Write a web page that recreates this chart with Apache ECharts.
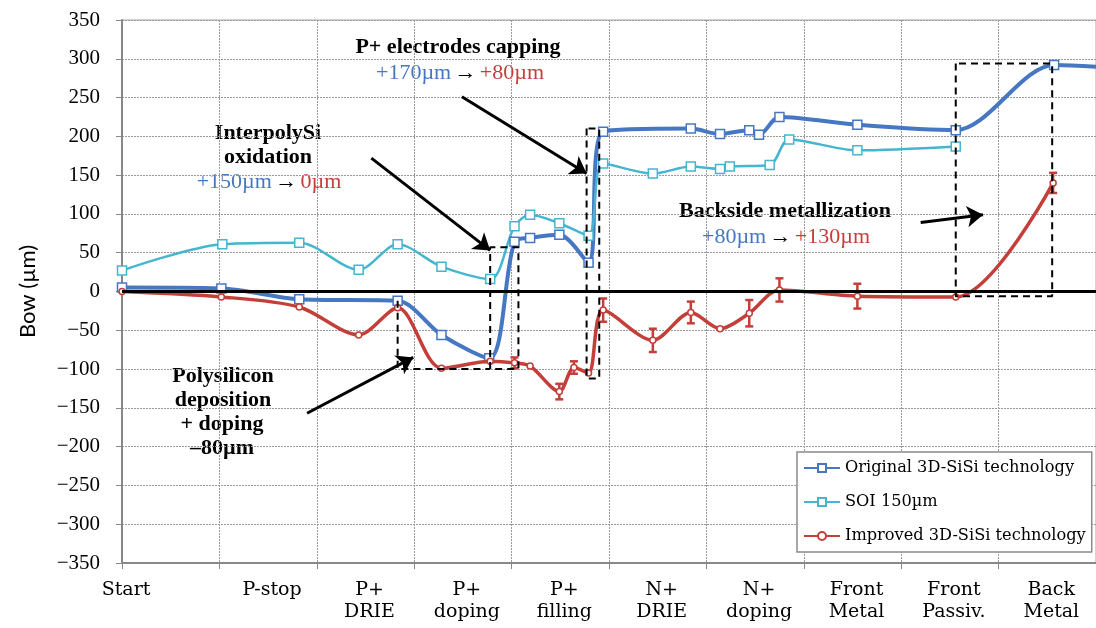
<!DOCTYPE html>
<html><head><meta charset="utf-8">
<script src="https://cdn.jsdelivr.net/npm/echarts@6/dist/echarts.min.js"></script>
<style>html,body{margin:0;padding:0;background:#fff}#c{width:1096px;height:628px}</style>
</head><body><div id="c"></div>
<script>
// ---- data ----
const stepLabels = ['Start','P-stop','P+\nDRIE','P+\ndoping','P+\nfilling','N+\nDRIE','N+\ndoping','Front\nMetal','Front\nPassiv.','Back\nMetal'];
const stepLabelPos = [0, 1.5, 2.5, 3.5, 4.5, 5.5, 6.5, 7.5, 8.5, 9.5];
const yMin = -350, yMax = 350, yStep = 50;

const originalX = [0, 1.02, 1.82, 2.83, 3.28, 3.77, 4.03, 4.19, 4.49, 4.79, 4.94, 5.84, 6.14, 6.44, 6.54, 6.75, 7.55, 8.56, 9.57, 10.4];
const originalY = [5, 4, -10, -12, -56, -86, 64, 69, 73, 37, 206, 210, 203, 208, 202, 225, 215, 208, 292, 286];

const soiX = [0, 1.03, 1.82, 2.43, 2.83, 3.28, 3.78, 4.03, 4.19, 4.49, 4.79, 4.94, 5.45, 5.84, 6.14, 6.24, 6.65, 6.85, 7.55, 8.56];
const soiY = [27, 61, 63, 28, 61, 32, 16, 84, 99, 88, 72, 165, 152, 161, 158, 161, 163, 196, 182, 187];

const improvedX = [0, 1.02, 1.82, 2.43, 2.83, 3.28, 3.78, 4.03, 4.19, 4.49, 4.64, 4.79, 4.94, 5.45, 5.84, 6.14, 6.44, 6.75, 7.55, 8.56, 9.56];
const improvedY = [0, -7, -20, -56, -21, -99, -90, -92, -96, -129, -98, -105, -24, -63, -27, -48, -28, 2, -6, -7, 140];
const improvedErr = [0, 0, 0, 0, 0, 0, 0, 7, 0, 10, 8, 0, 15, 15, 14, 0, 17, 15, 16, 0, 13];

// dashed boxes (data coords)
const boxes = [
  [[2.83,-12],[2.83,-100],[3.78,-100]],
  [[3.78,-100],[3.78,57],[4.07,57],[4.07,-100],[3.78,-100]],
  [[4.77,210],[4.77,-112],[4.90,-112],[4.90,210],[4.77,210]],
  [[8.56,294],[8.56,-6],[9.55,-6],[9.55,294],[8.56,294]]
];
// annotation arrows (data coords)
const arrows = [
  [[2.56,172],[3.78,53]],
  [[3.49,251],[4.77,152]],
  [[8.20,89],[8.84,99]],
  [[1.90,-157],[2.99,-85]]
];

const series = ['Original 3D-SiSi technology', 'SOI 150\u00b5m', 'Improved 3D-SiSi technology'];
const BLUE = '#4677c3', CYAN = '#45b5d0', RED = '#c43e3a';
const SERIF = "'Liberation Serif', 'DejaVu Serif', serif";
const WIDE = "'DejaVu Serif', 'Liberation Serif', serif";
const SMOOTH = 0.3;

const zip = (xs, ys) => xs.map((x, i) => [x, ys[i]]);

const chart = echarts.init(document.getElementById('c'), null, {renderer: 'canvas'});

const boxSeries = boxes.map((b, i) => ({
  type: 'line', name: 'box' + i, data: b, symbol: 'none', silent: true, z: 6,
  lineStyle: {color: '#000', width: 2, type: [7, 5]}, animation: false, clip: false
}));

const gridStyle = {show: true, lineStyle: {color: '#9a9a9a', width: 1, type: [2, 1]}};
const annBold = "bold 22px " + SERIF;
const annReg = "22px " + SERIF;
const richCol = {b: {fill: BLUE, font: annReg}, k: {fill: '#000', font: annReg}, r: {fill: RED, font: annReg}};

chart.setOption({
  animation: false,
  grid: {left: 122, right: 0, top: 20, bottom: 65, show: true, borderColor: '#a8a8a8', borderWidth: 1, outerBoundsMode: 'none', containLabel: false},
  xAxis: [{
    type: 'value', min: 0, max: 10, interval: 1,
    axisLine: {show: true, onZero: false, lineStyle: {color: '#888', width: 2}},
    axisTick: {show: true, length: 6, lineStyle: {color: '#888'}},
    axisLabel: {show: false},
    splitLine: gridStyle
  }, {
    type: 'value', min: 0, max: 10, interval: 0.5, position: 'bottom',
    axisLine: {show: false}, axisTick: {show: false}, splitLine: {show: false},
    axisLabel: {
      show: true, margin: 16, color: '#000', fontFamily: WIDE, fontSize: 19, lineHeight: 22,
      showMinLabel: true, showMaxLabel: true, padding: [0, 0, 0, 8],
      formatter: v => { const i = stepLabelPos.findIndex(p => Math.abs(p - v) < 1e-6); return i >= 0 ? stepLabels[i] : ''; }
    }
  }],
  yAxis: {
    type: 'value', min: yMin, max: yMax, interval: yStep,
    name: 'Bow (\u00b5m)', nameLocation: 'middle', nameRotate: 90, nameGap: 83,
    nameTextStyle: {fontFamily: "Lato, 'Liberation Sans', sans-serif", fontSize: 22, color: '#000'},
    axisLine: {show: true, onZero: false, lineStyle: {color: '#888', width: 2}},
    axisTick: {show: true, length: 6, lineStyle: {color: '#888'}},
    axisLabel: {margin: 22, color: '#000', fontFamily: SERIF, fontSize: 21,
      formatter: v => (v < 0 ? '\u2212' + Math.abs(v) : String(v))},
    splitLine: gridStyle
  },
  legend: {
    data: series, orient: 'vertical', left: 797, top: 452,
    backgroundColor: '#fff', borderColor: '#8a8a8a', borderWidth: 1.5,
    padding: [8, 6, 8, 6], itemGap: 18, itemWidth: 36, itemHeight: 10,
    textStyle: {fontFamily: WIDE, fontSize: 16.2, color: '#000'}
  },
  series: [
    {
      name: series[0], type: 'line', data: zip(originalX, originalY), smooth: SMOOTH,
      symbol: 'rect', symbolSize: 9, color: BLUE, z: 3,
      lineStyle: {width: 4, color: BLUE},
      itemStyle: {color: '#fff', borderColor: BLUE, borderWidth: 1.5},
      markLine: {silent: true, symbol: 'none', label: {show: false}, z: 5,
        lineStyle: {color: '#000', width: 3, type: 'solid'}, data: [{yAxis: 0}]}
    },
    {
      name: series[1], type: 'line', data: zip(soiX, soiY), smooth: SMOOTH,
      symbol: 'rect', symbolSize: 9, color: CYAN, z: 3,
      lineStyle: {width: 2.5, color: CYAN},
      itemStyle: {color: '#fff', borderColor: CYAN, borderWidth: 1.5}
    },
    {
      name: series[2], type: 'line', data: zip(improvedX, improvedY), smooth: SMOOTH,
      symbol: 'circle', symbolSize: 6, color: RED, z: 4,
      lineStyle: {width: 3.5, color: RED},
      itemStyle: {color: '#fff', borderColor: RED, borderWidth: 1.5}
    },
    {
      name: 'err', type: 'custom', z: 4, silent: true,
      data: improvedX.map((x, i) => [x, improvedY[i] - improvedErr[i], improvedY[i] + improvedErr[i]]).filter((d, i) => improvedErr[i] > 0),
      renderItem: (params, api) => {
        const lo = api.coord([api.value(0), api.value(1)]);
        const hi = api.coord([api.value(0), api.value(2)]);
        const w = 4;
        const st = {stroke: RED, lineWidth: 2.5};
        return {type: 'group', children: [
          {type: 'line', shape: {x1: lo[0], y1: lo[1], x2: hi[0], y2: hi[1]}, style: st},
          {type: 'line', shape: {x1: lo[0]-w, y1: lo[1], x2: lo[0]+w, y2: lo[1]}, style: st},
          {type: 'line', shape: {x1: hi[0]-w, y1: hi[1], x2: hi[0]+w, y2: hi[1]}, style: st}
        ]};
      }
    },
    ...boxSeries,
    {
      name: 'arrows', type: 'lines', coordinateSystem: 'cartesian2d', z: 7, silent: true,
      symbol: ['none', 'arrow'], symbolSize: 16,
      lineStyle: {color: '#000', width: 3, opacity: 1},
      data: arrows.map(a => ({coords: a}))
    }
  ],
  graphic: [
    {type: 'text', x: 458, y: 47, style: {text: 'P+ electrodes capping', font: annBold, fill: '#000', align: 'center', verticalAlign: 'middle'}},
    {type: 'text', x: 460, y: 73, style: {text: '{b|+170\u00b5m} {k|\u2192} {r|+80\u00b5m}', align: 'center', verticalAlign: 'middle', rich: richCol}},
    {type: 'text', x: 268, y: 133, style: {text: 'InterpolySi', font: annBold, fill: '#000', align: 'center', verticalAlign: 'middle'}},
    {type: 'text', x: 268, y: 157, style: {text: 'oxidation', font: annBold, fill: '#000', align: 'center', verticalAlign: 'middle'}},
    {type: 'text', x: 269, y: 182, style: {text: '{b|+150\u00b5m} {k|\u2192} {r|0\u00b5m}', align: 'center', verticalAlign: 'middle', rich: richCol}},
    {type: 'text', x: 785, y: 211, style: {text: 'Backside metallization', font: annBold, fill: '#000', align: 'center', verticalAlign: 'middle'}},
    {type: 'text', x: 786, y: 237, style: {text: '{b|+80\u00b5m} {k|\u2192} {r|+130\u00b5m}', align: 'center', verticalAlign: 'middle', rich: richCol}},
    {type: 'text', x: 223, y: 376, style: {text: 'Polysilicon', font: annBold, fill: '#000', align: 'center', verticalAlign: 'middle'}},
    {type: 'text', x: 223, y: 400, style: {text: 'deposition', font: annBold, fill: '#000', align: 'center', verticalAlign: 'middle'}},
    {type: 'text', x: 222, y: 424, style: {text: '+ doping', font: annBold, fill: '#000', align: 'center', verticalAlign: 'middle'}},
    {type: 'text', x: 222, y: 448, style: {text: '\u201380\u00b5m', font: annBold, fill: '#000', align: 'center', verticalAlign: 'middle'}}
  ]
});
</script></body></html>
